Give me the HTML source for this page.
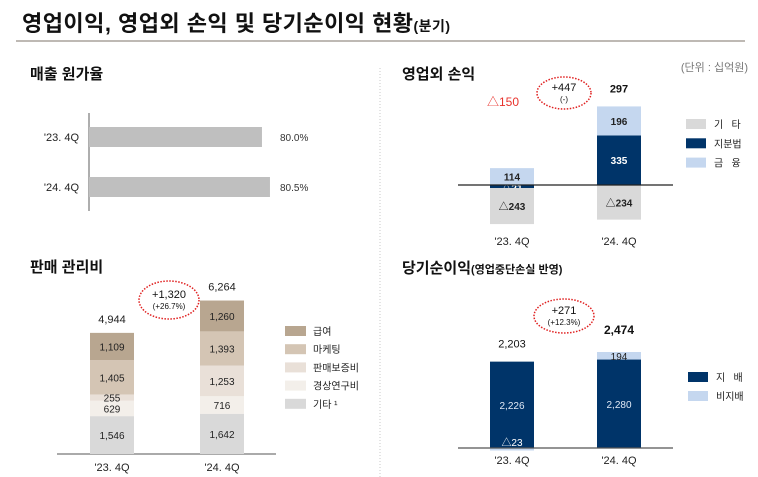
<!DOCTYPE html>
<html><head><meta charset="utf-8"><style>
html,body{margin:0;padding:0;background:#fff;}
svg{display:block;font-family:"Liberation Sans","Noto Sans CJK KR",sans-serif;}
</style></head><body>
<svg id="s" width="758" height="477" viewBox="0 0 758 477" xmlns="http://www.w3.org/2000/svg">
<text x="22" y="31" font-size="22" font-weight="bold" fill="#111" textLength="428">영업이익, 영업외 손익 및 당기순이익 현황<tspan font-size="14">(분기)</tspan></text>
<line x1="16" y1="41" x2="745" y2="41" stroke="#a8a29b" stroke-width="1.5"/>
<line x1="380" y1="68" x2="380" y2="477" stroke="#c8c8c8" stroke-dasharray="1,2"/>
<text x="30" y="79" font-size="15" font-weight="bold" fill="#111">매출 원가율</text>
<text x="30" y="272" font-size="15" font-weight="bold" fill="#111">판매 관리비</text>
<text x="402" y="79" font-size="15" font-weight="bold" fill="#111">영업외 손익</text>
<text x="748" y="71" font-size="11" fill="#777" text-anchor="end">(단위 : 십억원)</text>
<text x="402" y="273" font-size="15" font-weight="bold" fill="#111">당기순이익<tspan font-size="11">(영업중단손실 반영)</tspan></text>
<g id="g"></g>
</svg>
<script>
// Cost ratio
const crCats=["'23. 4Q","'24. 4Q"];
const crVals=[80.0,80.5];
const crLabels=["80.0%","80.5%"];
// SG&A
const sgaCats=["'23. 4Q","'24. 4Q"];
const sgaSeries=["기타 ¹","경상연구비","판매보증비","마케팅","급여"];
const sgaEtc=[1546,1642];
const sgaRnd=[629,716];
const sgaWarranty=[255,1253];
const sgaMarketing=[1405,1393];
const sgaSalary=[1109,1260];
const sgaTotals=["4,944","6,264"];
// Non-operating
const noCats=["'23. 4Q","'24. 4Q"];
const noFinance=[114,196];
const noEquity=[-21,335];
const noOther=[-243,-234];
const noTotals=["△150","297"];
// Net income
const niCats=["'23. 4Q","'24. 4Q"];
const niOwner=[2226,2280];
const niMinor=[-23,194];
const niTotals=["2,203","2,474"];

const NS="http://www.w3.org/2000/svg",G=document.getElementById('g');
function el(t,a,txt){const e=document.createElementNS(NS,t);for(const k in a)e.setAttribute(k,a[k]);if(txt!=null)e.textContent=txt;G.appendChild(e);return e;}
function fmt(v){const s=Math.abs(v).toLocaleString('en-US');return v<0?'△'+s:s;}
const SP='\u00a0\u00a0\u00a0';

// Panel 1
const crX=v=>89+(v-69.19)*16;
const crY=[127,177];
let e=el('line',{x1:89,y1:113,x2:89,y2:211,stroke:'#777','stroke-width':1.2});

crVals.forEach((v,i)=>{
 e=el('rect',{x:89,y:crY[i],width:crX(v)-89,height:20,fill:'#bfbfbf'});
 
 e=el('text',{x:79,y:crY[i]+14,'font-size':11,'text-anchor':'end',fill:'#222'},crCats[i]);
 
 e=el('text',{x:280,y:crY[i]+14,'font-size':10,fill:'#333'},crLabels[i]);
 
});

// Panel 2
const sBase=454,sK=0.0245,sX=[90,200],sW=44;
const sData=[sgaEtc,sgaRnd,sgaWarranty,sgaMarketing,sgaSalary];
const sCol=['#d9d9d9','#f3efea','#e9e0d8','#d4c5b4','#b8a690'];
e=el('line',{x1:57,y1:sBase,x2:276,y2:sBase,stroke:'#777','stroke-width':1.2});

sgaCats.forEach((c,i)=>{
 let y=sBase;
 sData.forEach((arr,j)=>{
  const h=arr[i]*sK;y-=h;
  e=el('rect',{x:sX[i],y:y,width:sW,height:h,fill:sCol[j]});
  
  e=el('text',{x:sX[i]+sW/2,y:y+h/2+4,'font-size':10,'text-anchor':'middle',fill:'#222'},fmt(arr[i]));
  
 });
 e=el('text',{x:sX[i]+sW/2,y:y-10,'font-size':11,'text-anchor':'middle',fill:'#222'},sgaTotals[i]);
 
 e=el('text',{x:sX[i]+sW/2,y:471,'font-size':11,'text-anchor':'middle',fill:'#222'},c);
 
});
for(let j=4;j>=0;j--){
 const ly=326+(4-j)*18.2;
 e=el('rect',{x:285,y:ly,width:21,height:10,fill:sCol[j]});
 
 e=el('text',{x:313,y:ly+9,'font-size':10,fill:'#222'},sgaSeries[j]);
 
}

function bubble(cx,cy,rx,ry,t1,t2,name){
 let e=el('ellipse',{cx:cx,cy:cy,rx:rx,ry:ry,fill:'none',stroke:'#e02020','stroke-width':1.5,'stroke-dasharray':'1.5,1.5'});
 
 e=el('text',{x:cx,y:cy-2,'font-size':11,'text-anchor':'middle',fill:'#111'},t1);
 
 e=el('text',{x:cx,y:cy+9,'font-size':8,'text-anchor':'middle',fill:'#111'},t2);
 
}
bubble(169,300,30,19,'+1,320','(+26.7%)','sga-change-bubble');

// Panel 3
const nZero=185,nK=0.148,nX=[490,597],nW=44;
const nCol={fin:'#c5d7ef',eq:'#003469',oth:'#d9d9d9'};
noCats.forEach((c,i)=>{
 let pos=nZero,neg=nZero;
 [[noEquity,'eq'],[noFinance,'fin'],[noOther,'oth']].forEach(([arr,k])=>{
  const v=arr[i],h=Math.abs(v)*nK;let y;
  if(v>=0){pos-=h;y=pos;}else{y=neg;neg+=h;}
  e=el('rect',{x:nX[i],y:y,width:nW,height:Math.max(h,1.5),fill:nCol[k]});
  
  const ty=h<8?y+h/2+5:y+h/2+4;
  e=el('text',{x:nX[i]+nW/2,y:ty,'font-size':10,'font-weight':'bold','text-anchor':'middle',fill:k==='eq'?'#fff':'#222'},fmt(v));
  
 });
 const neg0=noTotals[i].startsWith('△');
 e=el('text',{x:nX[i]+nW/2+(neg0?-9:0),y:neg0?pos-62:pos-14,'font-size':neg0?12:11,'font-weight':neg0?'normal':'bold','text-anchor':'middle',fill:neg0?'#e8322c':'#111'},noTotals[i]);
 
 e=el('text',{x:nX[i]+nW/2,y:245,'font-size':11,'text-anchor':'middle',fill:'#222'},c);
 
});
e=el('line',{x1:458,y1:nZero,x2:673,y2:nZero,stroke:'#222','stroke-width':1.2});

[['기'+SP+'타',nCol.oth],['지분법',nCol.eq],['금'+SP+'융',nCol.fin]].forEach(([t,c],j)=>{
 const ly=119+j*19.3;
 e=el('rect',{x:686,y:ly,width:20,height:10,fill:c});
 
 e=el('text',{x:714,y:ly+9,'font-size':10,fill:'#222'},t);
 
});
bubble(564,93,27,16,'+447','(-)','nonop-change-bubble');

// Panel 4
const iZero=448,iK=0.0388,iX=[490,597],iW=44;
niCats.forEach((c,i)=>{
 let top=iZero-niOwner[i]*iK;
 e=el('rect',{x:iX[i],y:top,width:iW,height:niOwner[i]*iK,fill:'#003469'});
 
 e=el('text',{x:iX[i]+iW/2,y:(top+iZero)/2+4,'font-size':10,'text-anchor':'middle',fill:'#dfe8f5'},fmt(niOwner[i]));
 
 const m=niMinor[i],h=Math.abs(m)*iK;
 let my=m>=0?top-h:iZero;
 if(m>=0)top-=h;
 e=el('rect',{x:iX[i],y:my,width:iW,height:Math.max(h,2.5),fill:'#c5d7ef'});
 
 e=el('text',{x:iX[i]+iW/2,y:m>=0?my+h/2+4:iZero-2,'font-size':10,'text-anchor':'middle',fill:m>=0?'#222':'#fff'},fmt(m));
 
 const b=i===1;
 e=el('text',{x:iX[i]+iW/2,y:top-(b?18:14),'font-size':b?12:11,'font-weight':b?'bold':'normal','text-anchor':'middle',fill:'#111'},niTotals[i]);
 
 e=el('text',{x:iX[i]+iW/2,y:464,'font-size':11,'text-anchor':'middle',fill:'#222'},c);
 
});
e=el('line',{x1:458,y1:iZero,x2:673,y2:iZero,stroke:'#555','stroke-width':1.2});

[['지'+SP+'배','#003469'],['비지배','#c5d7ef']].forEach(([t,c],j)=>{
 const ly=372+j*19;
 e=el('rect',{x:688,y:ly,width:20,height:10,fill:c});
 
 e=el('text',{x:716,y:ly+9,'font-size':10,fill:'#222'},t);
 
});
bubble(564,316,30,17,'+271','(+12.3%)','net-income-change-bubble');
</script>
</body></html>
